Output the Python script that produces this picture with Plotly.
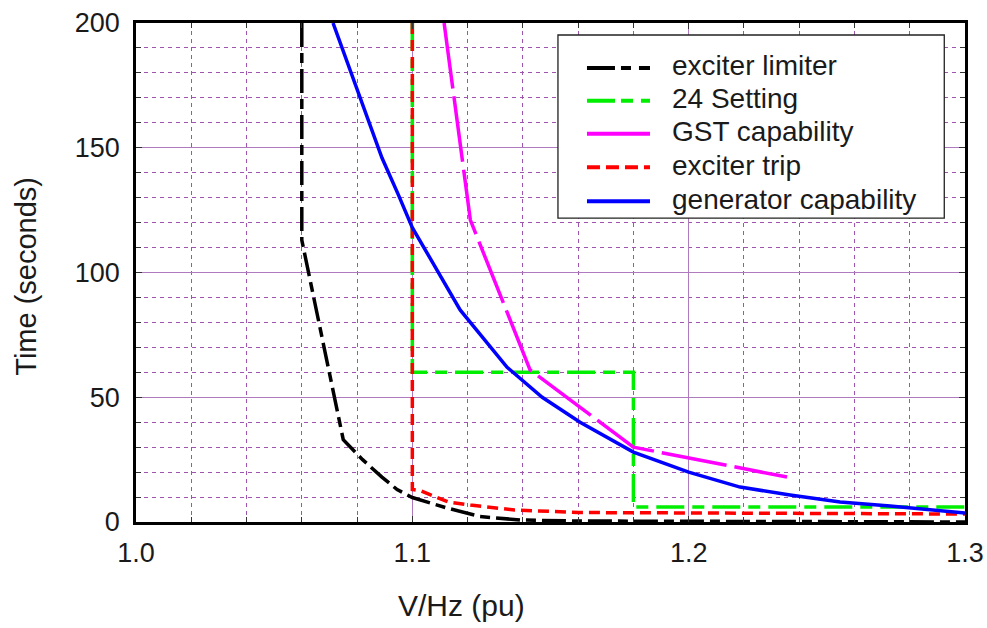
import plotly.graph_objects as go

# V/Hz protection coordination curves (time in seconds vs V/Hz in pu)
exc_lim_x = [1.06, 1.06, 1.075, 1.082, 1.089, 1.0945, 1.1, 1.1126, 1.1245, 1.139, 1.16, 1.2, 1.3]
exc_lim_y = [200, 113, 33, 25, 18, 13, 9.8, 5.6, 2.2, 0.8, 0.4, 0.2, 0]

setting24_x = [1.1, 1.1, 1.18, 1.18, 1.3]
setting24_y = [200, 60, 60, 6, 6]

gst_x = [1.1115, 1.121, 1.1426, 1.18, 1.2356]
gst_y = [200, 121, 61, 30, 18]

trip_x = [1.1, 1.1, 1.103, 1.113, 1.121, 1.137, 1.16, 1.2, 1.25, 1.3]
trip_y = [200, 13, 12.5, 8, 6.8, 4.8, 3.8, 3.7, 3.5, 3.2]

gen_x = [1.0713, 1.0775, 1.0836, 1.089, 1.095, 1.1, 1.1173, 1.1343, 1.147, 1.1607,
         1.18, 1.2, 1.2186, 1.2367, 1.2548, 1.2729, 1.3]
gen_y = [200, 181, 162, 146, 131, 118, 85, 62, 50, 40,
         28, 20, 14, 10.8, 8, 6.4, 3.6]

series_names = ["exciter limiter", "24 Setting", "GST capability", "exciter trip", "generator capability"]

x_ticks = [1.0, 1.1, 1.2, 1.3]
y_ticks = [0, 50, 100, 150, 200]

FONT = "Liberation Sans, Arial, sans-serif"
TEXT_COLOR = "#1a1a1a"

# (x, y, color, dash on plot, dash in key)
styles = [
    (exc_lim_x, exc_lim_y, "black", "24px,6px,10px,6px", "28px,6px,10px,8px,12px"),
    (setting24_x, setting24_y, "#00ee00", "28px,8px,12px,8px", "28px,6px,12px,8px,10px"),
    (gst_x, gst_y, "#ff00ff", "66px,8px", "solid"),
    (trip_x, trip_y, "#ff0000", "11px,6px", "13px,6px"),
    (gen_x, gen_y, "#0000ff", "solid", "solid"),
]

fig = go.Figure()
for name, (xs, ys, color, dash, _) in zip(series_names, styles):
    fig.add_trace(go.Scatter(x=xs, y=ys, mode="lines", name=name, showlegend=False,
                             line=dict(color=color, width=3.5, dash=dash)))

axis_common = dict(
    showline=True, linecolor="black", linewidth=2.5, mirror="allticks",
    ticks="inside", ticklen=6, tickwidth=1.2, tickcolor="#333",
    showgrid=True, gridcolor="#b07abf", gridwidth=1.2,
    zeroline=False, automargin=False,
    tickfont=dict(family=FONT, size=27, color=TEXT_COLOR),
)

fig.update_xaxes(
    range=[1.0, 1.3], tickvals=x_ticks, ticktext=[f"{v:.1f}" for v in x_ticks],
    minor=dict(dtick=0.02, showgrid=True, gridcolor="#9f55b0", griddash="4px,4px",
               gridwidth=1.1, ticks="inside", ticklen=5, tickcolor="#333"),
    ticklabelstandoff=5,
    **axis_common,
)
fig.update_yaxes(
    range=[0, 200], tickvals=y_ticks,
    minor=dict(dtick=10, showgrid=True, gridcolor="#9f55b0", griddash="4px,4px",
               gridwidth=1.1, ticks="inside", ticklen=5, tickcolor="#333"),
    ticklabelstandoff=8,
    **axis_common,
)

# Axis titles
annotations = [
    dict(text="V/Hz (pu)", x=0.393, y=-0.168, xref="paper", yref="paper",
         xanchor="center", yanchor="middle", showarrow=False,
         font=dict(family=FONT, size=30, color=TEXT_COLOR)),
    dict(text="Time (seconds)", x=-0.133, y=0.493, xref="paper", yref="paper",
         xanchor="center", yanchor="middle", showarrow=False, textangle=-90,
         font=dict(family=FONT, size=29, color=TEXT_COLOR)),
]

# Key box with line samples
shapes = [dict(type="rect", xref="paper", yref="paper", x0=0.509, x1=0.975, y0=0.609, y1=0.976,
               line=dict(color="#222", width=1.3), fillcolor="white", layer="above")]
row_y = [0.910, 0.844, 0.778, 0.711, 0.643]
for name, (_, _, color, _, key_dash), ry in zip(series_names, styles, row_y):
    shapes.append(dict(type="line", xref="paper", yref="paper", x0=0.544, x1=0.620, y0=ry, y1=ry,
                       line=dict(color=color, width=4, dash=key_dash), layer="above"))
    annotations.append(dict(text=name, x=0.644, y=ry + 0.004, xref="paper", yref="paper",
                            xanchor="left", yanchor="middle", showarrow=False,
                            font=dict(family=FONT, size=28, color=TEXT_COLOR)))

fig.update_layout(
    width=987, height=628,
    margin=dict(l=136, r=22, t=23, b=106),
    paper_bgcolor="white", plot_bgcolor="white",
    showlegend=False,
    shapes=shapes,
    annotations=annotations,
)

fig.write_html("out.html")
